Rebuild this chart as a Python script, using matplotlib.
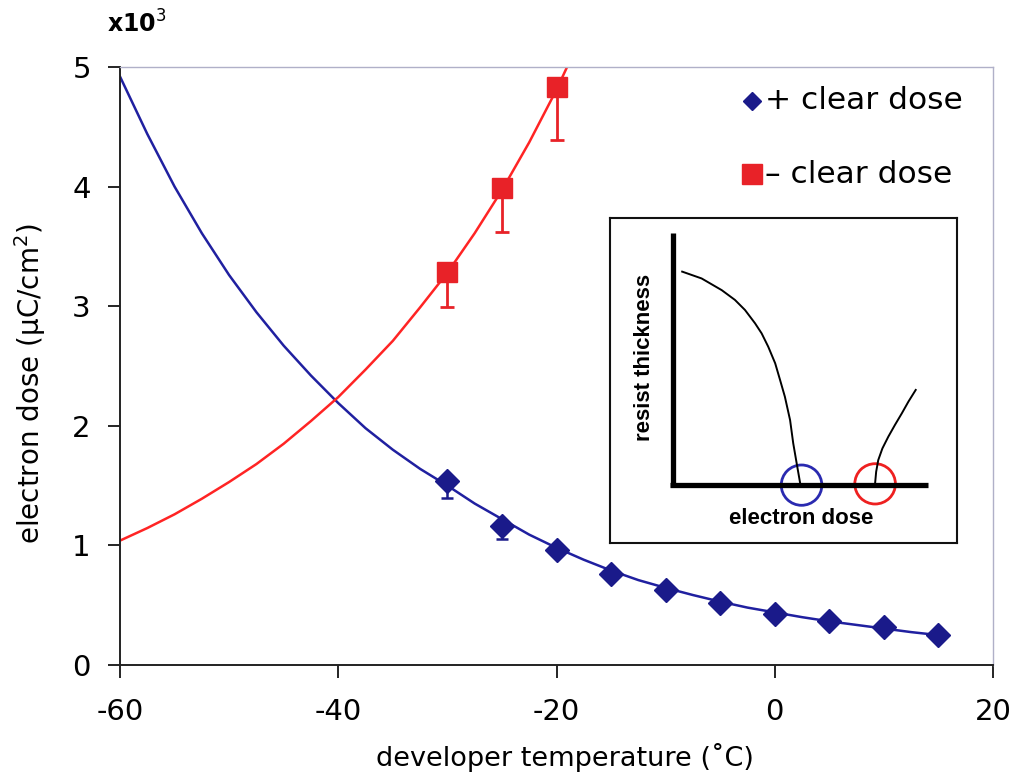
import matplotlib
matplotlib.use("Agg")
import matplotlib.pyplot as plt
from matplotlib.patches import Ellipse

# values in units of 10^3 uC/cm^2
temp_pos = [-30, -25, -20, -15, -10, -5, 0, 5, 10, 15]
dose_pos = [1.54, 1.16, 0.96, 0.76, 0.63, 0.52, 0.43, 0.37, 0.315, 0.25]
err_pos_low = [0.14, 0.11, 0, 0, 0, 0, 0, 0, 0, 0]

temp_neg = [-30, -25, -20]
dose_neg = [3.29, 3.99, 4.83]
err_neg_low = [0.30, 0.37, 0.44]

# trend lines
fit_pos_x = [-60, -57.5, -55, -52.5, -50, -47.5, -45, -42.5, -40, -37.5, -35, -32.5,
             -30, -27.5, -25, -22.5, -20, -17.5, -15, -12.5, -10, -7.5, -5, -2.5,
             0, 2.5, 5, 7.5, 10, 12.5, 15]
fit_pos_y = [4.92, 4.44, 4.00, 3.61, 3.26, 2.95, 2.67, 2.42, 2.19, 1.98, 1.80, 1.64,
             1.50, 1.35, 1.22, 1.09, 0.98, 0.88, 0.79, 0.71, 0.645, 0.585, 0.53, 0.48,
             0.44, 0.40, 0.365, 0.335, 0.305, 0.275, 0.25]
fit_neg_x = [-60, -57.5, -55, -52.5, -50, -47.5, -45, -42.5, -40, -37.5, -35, -32.5,
             -30, -27.5, -25, -22.5, -20, -17.5]
fit_neg_y = [1.04, 1.145, 1.26, 1.39, 1.53, 1.68, 1.85, 2.04, 2.24, 2.47, 2.71, 2.99,
             3.28, 3.61, 3.97, 4.37, 4.81, 5.30]

x_ticks = [-60, -40, -20, 0, 20]
y_ticks = [0, 1, 2, 3, 4, 5]

# inset sketch (normalised inset coordinates)
sketch_pos_u = [0.208, 0.264, 0.322, 0.360, 0.389, 0.418, 0.437, 0.456, 0.476, 0.490,
                0.504, 0.519, 0.528, 0.538, 0.548]
sketch_pos_v = [0.835, 0.814, 0.778, 0.748, 0.717, 0.676, 0.645, 0.604, 0.553, 0.502,
                0.450, 0.378, 0.307, 0.245, 0.184]
sketch_neg_u = [0.764, 0.767, 0.773, 0.785, 0.802, 0.821, 0.841, 0.860, 0.881]
sketch_neg_v = [0.184, 0.219, 0.255, 0.291, 0.327, 0.363, 0.399, 0.435, 0.471]

BLUE = "#1a1a8a"
BLUE_LINE = "#2020a0"
RED = "#e82228"
RED_LINE = "#ff2424"
MAIN = ["DejaVu Sans"]
SANS = ["Liberation Sans", "DejaVu Sans"]

fig = plt.figure(figsize=(10.18, 7.77), dpi=100)
ax = fig.add_axes([120 / 1018, 1 - 665 / 777, 873 / 1018, 598 / 777])

ax.plot(fit_pos_x, fit_pos_y, color=BLUE_LINE, lw=1.8, zorder=2)
ax.plot(fit_neg_x, fit_neg_y, color=RED_LINE, lw=1.8, zorder=2)

ax.errorbar(temp_pos, dose_pos, yerr=[err_pos_low, [0] * len(temp_pos)], fmt="none",
            ecolor=BLUE, elinewidth=1.8, capsize=4.3, capthick=1.8, zorder=3)
ax.errorbar(temp_neg, dose_neg, yerr=[err_neg_low, [0] * len(temp_neg)], fmt="none",
            ecolor=RED, elinewidth=2.0, capsize=4.7, capthick=2.0, zorder=3)
ax.plot(temp_pos, dose_pos, ls="none", marker="D", ms=12, color=BLUE, mec=BLUE, zorder=4)
ax.plot(temp_neg, dose_neg, ls="none", marker="s", ms=14, color=RED, mec=RED, zorder=4)

ax.set_xlim(-60, 20)
ax.set_ylim(0, 5)
ax.set_xticks(x_ticks)
ax.set_yticks(y_ticks)
ax.set_xticklabels([str(t) for t in x_ticks], family=MAIN, fontsize=21)
ax.set_yticklabels([str(t) for t in y_ticks], family=MAIN, fontsize=21)
ax.tick_params(direction="out", length=9, width=1.2)
ax.tick_params(axis="x", pad=15)
ax.tick_params(axis="y", pad=12)
for s in ["left", "bottom"]:
    ax.spines[s].set_color("#222222")
    ax.spines[s].set_linewidth(1.4)
for s in ["top", "right"]:
    ax.spines[s].set_color("#b0b0c8")
    ax.spines[s].set_linewidth(1.0)

ax.set_xlabel("developer temperature (\u02daC)", family=MAIN, fontsize=19.5)
ax.set_ylabel("electron dose (\u00b5C/cm$^2$)", family=MAIN, fontsize=20)
ax.xaxis.set_label_coords(0.51, -0.13)
ax.yaxis.set_label_coords(-0.082, 0.47)
fig.text(107 / 1018, 1 - 24 / 777, "x10$^3$", family=MAIN, fontsize=17,
         fontweight="bold", va="center", ha="left")

# legend
leg_items = [("+ clear dose", "D", BLUE, 9.5, 4.716), ("\u2013 clear dose", "s", RED, 14, 4.105)]
for label, mk, col, ms, yv in leg_items:
    ax.plot([-2.09], [yv], ls="none", marker=mk, ms=ms, color=col, mec=col, clip_on=False)
    ax.text(-0.89, yv, label, family=MAIN, fontsize=22.5, va="center", ha="left")

# inset
ins = fig.add_axes([610 / 1018, 1 - 543 / 777, 347 / 1018, 325 / 777])
ins.set_xlim(0, 1)
ins.set_ylim(0, 1)
ins.set_xticks([])
ins.set_yticks([])
for s in ins.spines.values():
    s.set_linewidth(1.5)
    s.set_color("#111111")
ins.plot([0.182, 0.182], [0.173, 0.953], color="black", lw=3.8, solid_capstyle="butt")
ins.plot([0.172, 0.915], [0.178, 0.178], color="black", lw=3.8, solid_capstyle="butt")
ins.plot(sketch_pos_u, sketch_pos_v, color="black", lw=1.4)
ins.plot(sketch_neg_u, sketch_neg_v, color="black", lw=1.4)
ins.add_patch(Ellipse((0.552, 0.178), 0.117, 0.124, fill=False, ec="#2a2ab0", lw=2))
ins.add_patch(Ellipse((0.764, 0.182), 0.117, 0.124, fill=False, ec="#ee2020", lw=2))
ins.text(0.552, 0.075, "electron dose", family=SANS, fontsize=16, fontweight="bold",
         ha="center", va="center")
ins.text(0.099, 0.57, "resist thickness", family=SANS, fontsize=16, fontweight="bold",
         ha="center", va="center", rotation=90)

fig.savefig("out.png", dpi=100)
